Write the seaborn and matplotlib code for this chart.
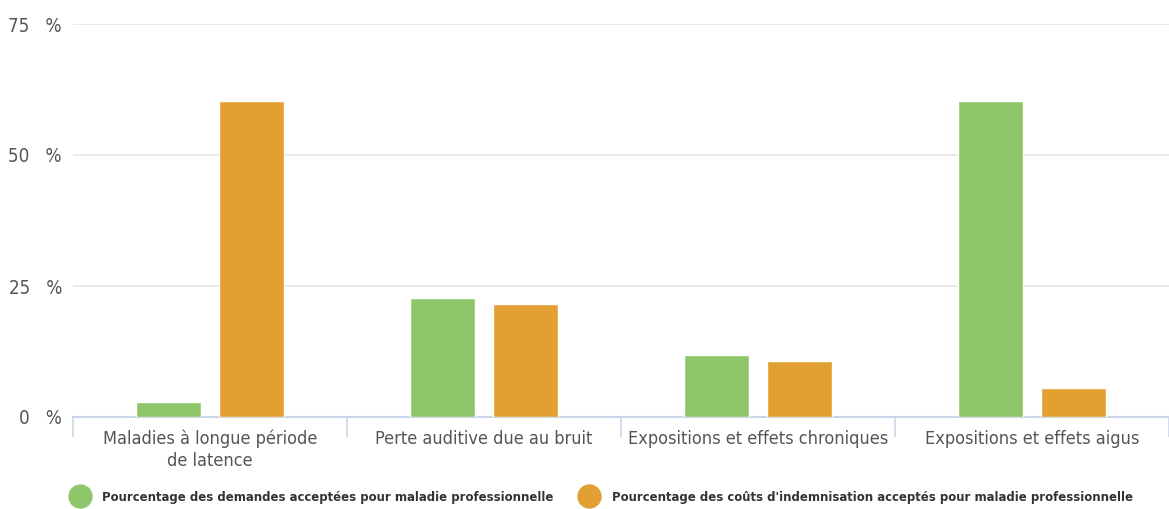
import matplotlib
matplotlib.use("Agg")
import matplotlib.pyplot as plt
from matplotlib.lines import Line2D
import seaborn as sns
import pandas as pd

# Data
categories = [
    "Maladies à longue période\nde latence",
    "Perte auditive due au bruit",
    "Expositions et effets chroniques",
    "Expositions et effets aigus",
]
demandes = [2.9, 22.7, 11.8, 60.3]
couts = [60.3, 21.6, 10.7, 5.5]
series_names = [
    "Pourcentage des demandes acceptées pour maladie professionnelle",
    "Pourcentage des coûts d'indemnisation acceptés pour maladie professionnelle",
]
y_ticks = [0, 25, 50, 75]
colors = ["#8DC76A", "#E2A032"]

df = pd.DataFrame({
    "categorie": categories * 2,
    "valeur": demandes + couts,
    "serie": [series_names[0]] * len(categories) + [series_names[1]] * len(categories),
})

sns.set_theme(style="white")
plt.rcParams["font.family"] = ["DejaVu Sans"]
plt.rcParams["font.stretch"] = "condensed"

fig = plt.figure(figsize=(11.69, 5.09), dpi=100)
ax = fig.add_axes([73 / 1169, 1 - 417 / 509, 1 - 73 / 1169, (417 - 24) / 509])

sns.barplot(
    data=df, x="categorie", y="valeur", hue="serie",
    palette=colors, saturation=1, width=0.613, gap=0.226,
    edgecolor="white", linewidth=1, ax=ax, legend=False, zorder=3,
)

ax.set_xlim(-0.5, len(categories) - 0.5)
ax.set_ylim(0, 75)
ax.set_yticks(y_ticks)
ax.set_yticklabels([f"{v}   %" for v in y_ticks], color="#555555", fontsize=13.5)
ax.tick_params(axis="y", length=0, pad=8)
ax.yaxis.grid(True, color="#e6e6e6", linewidth=1.2, zorder=0)
ax.set_axisbelow(True)

# Category labels centred, tick marks on category boundaries
ax.set_xticks(range(len(categories)))
ax.set_xticklabels(categories, color="#555555", fontsize=13, linespacing=1.3)
ax.tick_params(axis="x", which="major", length=0, pad=9)
ax.set_xticks([i - 0.5 for i in range(len(categories) + 1)], minor=True)
ax.tick_params(axis="x", which="minor", bottom=True, length=14.5, width=1.2,
               color="#ccd6eb", direction="out")

for s in ["top", "right", "left"]:
    ax.spines[s].set_visible(False)
ax.spines["bottom"].set_color("#ccd6eb")
ax.spines["bottom"].set_linewidth(1.5)
ax.set_xlabel("")
ax.set_ylabel("")

handles = [
    Line2D([0], [0], marker="o", linestyle="", markersize=16.5,
           markerfacecolor=c, markeredgecolor=c)
    for c in colors
]
fig.legend(
    handles, series_names, loc="center", bbox_to_anchor=(0.513, 1 - 497 / 509),
    ncol=2, frameon=False, handletextpad=0.75, columnspacing=1.7,
    prop={"weight": "bold", "size": 9.4, "stretch": "condensed"},
    labelcolor="#333333",
)

fig.savefig("out.png", dpi=100)
